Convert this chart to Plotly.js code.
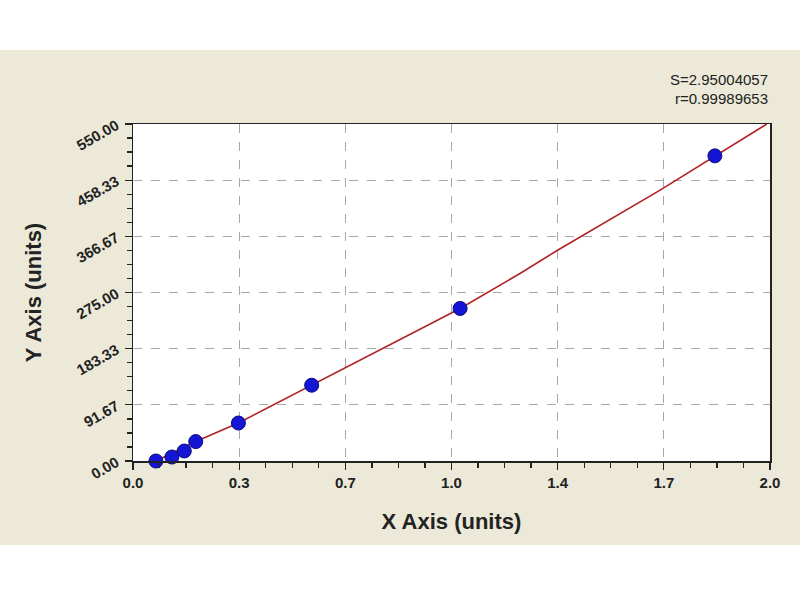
<!DOCTYPE html>
<html>
<head>
<meta charset="utf-8">
<script src="https://cdn.plot.ly/plotly-3.0.1.min.js"></script>
<style>
  body { margin: 0; background: #ffffff; }
  #chart { position: absolute; left: 0; top: 50px; width: 800px; height: 495px; }
</style>
</head>
<body>
<div id="chart"></div>
<script>
// standard points
const pointX = [0.072, 0.122, 0.161, 0.197, 0.331, 0.561, 1.027, 1.827];
const pointY = [0, 6.5, 16.3, 31.7, 62, 123.7, 249, 498];

// fitted curve, sampled from the drawn red line
const fitX = [0.072, 0.197, 0.331, 0.561, 1.027, 1.215, 1.333, 1.655, 1.827, 1.99];
const fitY = [0, 31.7, 62, 123.7, 249, 306, 344, 442, 498, 550];

const xTickVals = [0, 1 / 3, 2 / 3, 1, 4 / 3, 5 / 3, 2];
const xTickText = ["0.0", "0.3", "0.7", "1.0", "1.4", "1.7", "2.0"];
const yTickVals = [0, 91.67, 183.33, 275, 366.67, 458.33, 550];
const yTickText = ["0.00", "91.67", "183.33", "275.00", "366.67", "458.33", "550.00"];

const statLines = ["S=2.95004057", "r=0.99989653"];

const beige = "#ece9d8";
const labelFont = { family: "Liberation Sans, Arial, sans-serif", size: 15, color: "#222222", weight: "bold" };
const titleFont = { family: "Liberation Sans, Arial, sans-serif", size: 22, color: "#222222", weight: "bold" };

let fit = {
    x: fitX,
    y: fitY,
    type: "scatter",
    mode: "lines",
    line: { color: "#b22222", width: 1.6 },
    hoverinfo: "skip",
};
let points = {
    x: pointX,
    y: pointY,
    type: "scatter",
    mode: "markers",
    marker: { color: "#1515d5", size: 14, line: { color: "#0a0a80", width: 1 } },
    cliponaxis: false,
};

let axisCommon = {
    showline: true,
    linecolor: "#222222",
    linewidth: 1.5,
    mirror: true,
    ticks: "outside",
    ticklen: 7,
    tickwidth: 1.3,
    tickcolor: "#222222",
    showgrid: true,
    gridcolor: "#a8a8a8",
    griddash: "dash",
    gridwidth: 1,
    zeroline: false,
    tickfont: labelFont,
    tickmode: "array",
};

let layout = {
    width: 800,
    height: 495,
    paper_bgcolor: beige,
    plot_bgcolor: "#ffffff",
    showlegend: false,
    margin: { l: 133, r: 30, t: 74, b: 84 },
    xaxis: Object.assign({}, axisCommon, {
        range: [0, 2],
        tickvals: xTickVals,
        ticktext: xTickText,
        minor: { tick0: 0, dtick: 1 / 12, ticks: "outside", ticklen: 5, tickcolor: "#222222", showgrid: false },
        title: { text: "X Axis (units)", font: titleFont, standoff: 24 },
    }),
    yaxis: Object.assign({}, axisCommon, {
        range: [0, 550],
        tickvals: yTickVals,
        ticktext: yTickText,
        tickangle: -30,
        ticklabelstandoff: 5,
        minor: { tick0: 0, dtick: 550 / 24, ticks: "outside", ticklen: 5, tickcolor: "#222222", showgrid: false },
        title: { text: "Y Axis (units)", font: titleFont, standoff: 26 },
    }),
    annotations: statLines.map((t, i) => ({
        text: t,
        xref: "paper",
        yref: "paper",
        x: 1.0,
        y: 1.133 - i * 0.057,
        xanchor: "right",
        yanchor: "middle",
        showarrow: false,
        font: { family: "Liberation Sans, Arial, sans-serif", size: 15, color: "#222222" },
    })),
};

let config = { staticPlot: true, displayModeBar: false };
Plotly.newPlot("chart", [fit, points], layout, config);
</script>
</body>
</html>
